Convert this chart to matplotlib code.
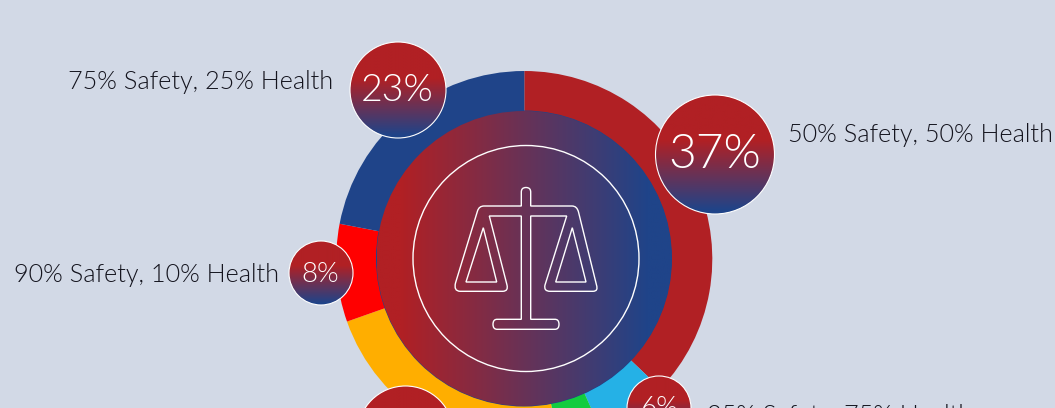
import matplotlib
matplotlib.use('Agg')
import matplotlib.pyplot as plt
import numpy as np
from matplotlib.colors import LinearSegmentedColormap
from matplotlib.patches import Circle, PathPatch
from matplotlib.path import Path

shares = [37.1, 6.2, 3.8, 22.5, 8.4, 22.0]
ring_colors = ['#B12024', '#25B1E6', '#12CC3F', '#FFAE00', '#FF0000', '#1F4489']
bubble_labels = ['37%', '6%', '', '', '8%', '23%']
mix_labels = ['50% Safety, 50% Health', '25% Safety, 75% Health', '', '',
              '90% Safety, 10% Health', '75% Safety, 25% Health']

BG = '#D2D9E6'
RED = '#B12024'
BLUE = '#1F4489'
TEXT = '#14141E'
FONT = 'Lato'
WEIGHT = 300

# bubble: wedge index, x, y, radius, font size
bubbles = [(0, 715, 154.5, 59.5, 34.5), (1, 659, 408, 32, 20), (3, 405.5, 434, 48, 30),
           (4, 321, 273, 32, 20), (5, 398, 90, 48, 27)]
# label: wedge index, x, y, alignment
labels = [(0, 788, 135, 'left'), (1, 707, 416, 'left'), (4, 279, 275, 'right'), (5, 333, 82, 'right')]

fig = plt.figure(figsize=(10.55, 4.08), dpi=100, facecolor=BG)
ax = fig.add_axes([0, 0, 1, 1])
ax.pie(shares, colors=ring_colors, center=(524.3, 259), radius=188, startangle=-90,
       counterclock=True, frame=True)
ax.set_aspect('auto')


def gradient_disc(x, y, r, cmap, horizontal, z):
    ramp = np.linspace(0, 1, 256)
    grid = ramp.reshape(1, -1) if horizontal else ramp.reshape(-1, 1)
    im = ax.imshow(grid, cmap=cmap, extent=(x - r, x + r, y + r, y - r), aspect='auto',
                   interpolation='bilinear', zorder=z)
    im.set_clip_path(Circle((x, y), r, transform=ax.transData))


center_cmap = LinearSegmentedColormap.from_list(
    'center', [(0, RED), (0.08, RED), (0.92, BLUE), (1, BLUE)])
bubble_cmap = LinearSegmentedColormap.from_list(
    'bubble', [(0, RED), (0.38, RED), (0.97, BLUE), (1, BLUE)])

ax.add_patch(Circle((524, 258.5), 148, fc=BLUE, ec='none', zorder=3))
gradient_disc(524, 258.5, 147.5, center_cmap, True, 4)
ax.add_patch(Circle((526, 258.5), 113, fc='none', ec='white', lw=1.0, zorder=5))

# scale icon, in pixels of the picture
M, L, Q, Z = Path.MOVETO, Path.LINETO, Path.CURVE3, Path.CLOSEPOLY
outline = [
    (M, 521.3, 206), (L, 484, 206), (Q, 479, 206), (Q, 477.5, 211), (L, 455.5, 283),
    (Q, 453.5, 291), (Q, 460, 291.3), (L, 503, 291.3), (Q, 508.5, 291), (Q, 507, 285),
    (L, 489.3, 216), (L, 521.3, 216), (L, 521.3, 319.3), (L, 497, 319.3), (Q, 493, 319.3),
    (Q, 493, 324.3), (Q, 493, 329.3), (Q, 497, 329.3), (L, 555, 329.3), (Q, 559, 329.3),
    (Q, 559, 324.3), (Q, 559, 319.3), (Q, 555, 319.3), (L, 530.7, 319.3), (L, 530.7, 216),
    (L, 566.7, 216), (L, 545, 285), (Q, 543.5, 291.3), (Q, 550, 291.3), (L, 593, 291.3),
    (Q, 598.5, 291.3), (Q, 596.5, 285), (L, 578.5, 212), (Q, 577, 206), (Q, 572, 206),
    (L, 530.7, 206), (L, 530.7, 192), (Q, 530.7, 187.5), (Q, 526, 187.5), (Q, 521.3, 187.5),
    (Q, 521.3, 192), (L, 521.3, 206), (Z, 521.3, 206),
]
pan_left = [(M, 483.3, 227.7), (L, 466, 282), (L, 496.7, 282), (Z, 483.3, 227.7)]
pan_right = [(M, 572.3, 227.7), (L, 555.7, 282), (L, 586, 282), (Z, 572.3, 227.7)]
for shape in (outline, pan_left, pan_right):
    codes = [s[0] for s in shape]
    verts = [(s[1], s[2]) for s in shape]
    ax.add_patch(PathPatch(Path(verts, codes), fc='none', ec='white', lw=1.0, zorder=5))

for idx, x, y, r, size in bubbles:
    gradient_disc(x, y, r, bubble_cmap, False, 6)
    ax.add_patch(Circle((x, y), r, fc='none', ec='white', lw=0.8, zorder=7))
    if bubble_labels[idx]:
        ax.text(x - 0.5, y + 1, bubble_labels[idx], color='white', fontsize=size, family=FONT,
                weight=WEIGHT, ha='center', va='center', zorder=8, clip_on=True)

for idx, x, y, align in labels:
    ax.text(x, y, mix_labels[idx], color=TEXT, fontsize=18.2, family=FONT, weight=WEIGHT,
            ha=align, va='center', clip_on=True)

ax.set_xlim(0, 1055)
ax.set_ylim(408, 0)
ax.axis('off')
fig.savefig('out.png', dpi=100, facecolor=BG)
